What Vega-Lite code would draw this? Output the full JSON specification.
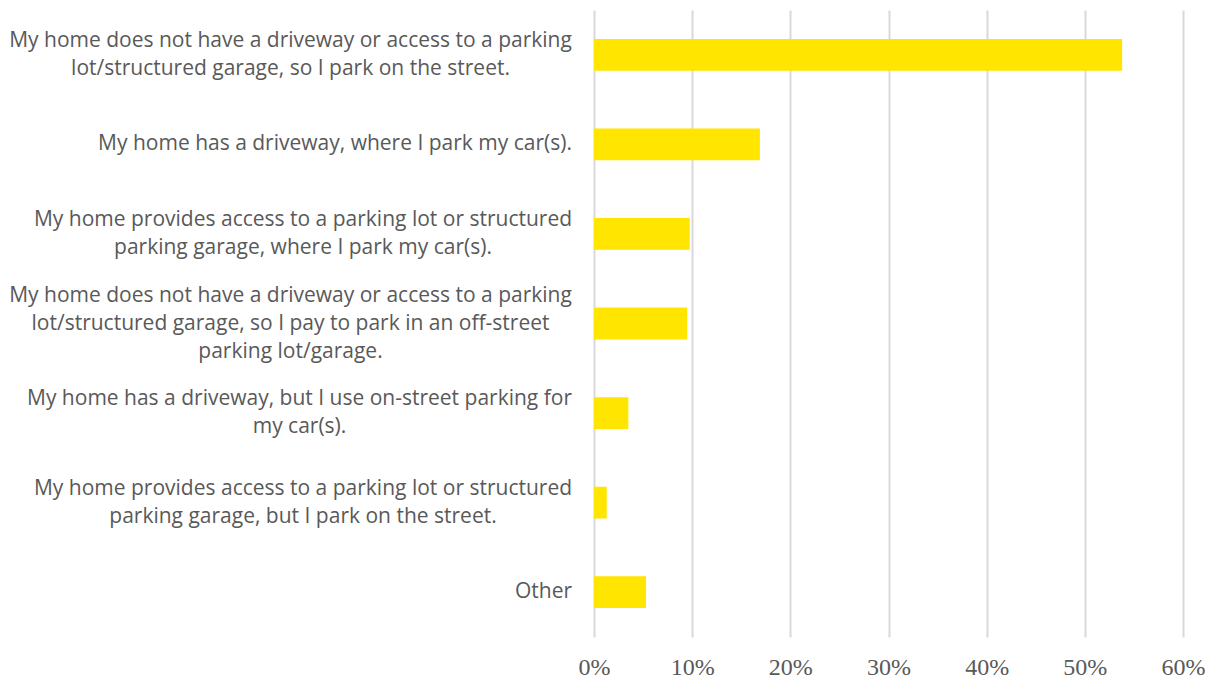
{
  "$schema": "https://vega.github.io/schema/vega-lite/v6.json",
  "autosize": {"type": "none"},
  "padding": {"left": 594, "top": 10, "right": 29, "bottom": 49},
  "width": 589,
  "height": 627,
  "background": "white",
  "config": {"view": {"stroke": null}},
  "data": {
    "values": [
      {"answer": "My home does not have a driveway or access to a parking|lot/structured garage, so I park on the street.", "share": 0.538},
      {"answer": "My home has a driveway, where I park my car(s).", "share": 0.169},
      {"answer": "My home provides access to a parking lot or structured|parking garage, where I park my car(s).", "share": 0.0975},
      {"answer": "My home does not have a driveway or access to a parking|lot/structured garage, so I pay to park in an off-street|parking lot/garage.", "share": 0.095},
      {"answer": "My home has a driveway, but I use on-street parking for|my car(s).", "share": 0.035},
      {"answer": "My home provides access to a parking lot or structured|parking garage, but I park on the street.", "share": 0.013},
      {"answer": "Other", "share": 0.053}
    ]
  },
  "mark": {"type": "bar", "color": "#FFE500"},
  "encoding": {
    "y": {
      "field": "answer",
      "type": "nominal",
      "sort": null,
      "scale": {"paddingInner": 0.645, "paddingOuter": 0.3225},
      "axis": {
        "title": null,
        "domain": false,
        "ticks": false,
        "labelPadding": {"expr": "datum.value === 'Other' ? 51 : indexof(datum.value, 'does not') >= 0 ? 304 : indexof(datum.value, 'provides') >= 0 ? 291.5 : indexof(datum.value, 'where') >= 0 ? 259.5 : 295"},
        "labelOffset": {"expr": "-(length(split(datum.value, '|')) - 1) * 14"},
        "labelFont": "Open Sans",
        "labelFontSize": 21,
        "labelColor": "#595959",
        "labelLimit": 800,
        "labelLineHeight": 28,
        "labelAlign": "center",
        "labelExpr": "split(datum.label, '|')"
      }
    },
    "x": {
      "field": "share",
      "type": "quantitative",
      "scale": {"domain": [0, 0.6], "nice": false},
      "axis": {
        "title": null,
        "format": ".0%",
        "values": [0, 0.1, 0.2, 0.3, 0.4, 0.5, 0.6],
        "domain": false,
        "ticks": false,
        "grid": true,
        "gridColor": "#D9D9D9",
        "gridWidth": 2,
        "labelFont": "Times New Roman",
        "labelFontSize": 24,
        "labelColor": "#595959",
        "labelPadding": 18,
        "labelFlush": false
      }
    }
  }
}
